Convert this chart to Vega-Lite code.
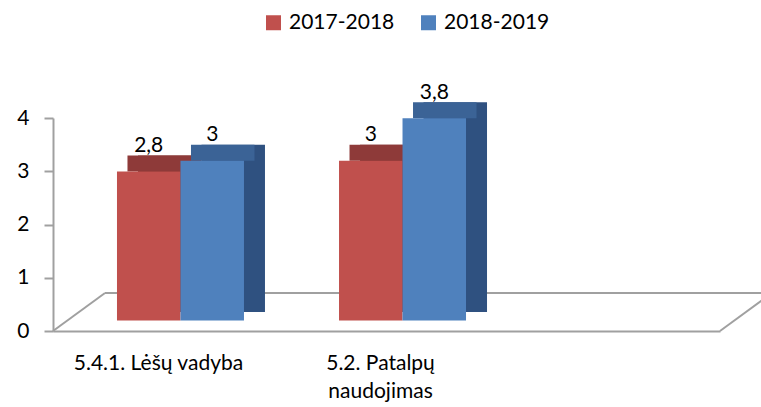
{
  "$schema": "https://vega.github.io/schema/vega-lite/v6.json",
  "width": 667,
  "height": 213,
  "autosize": "none",
  "padding": {"left": 53, "top": 118, "right": 41, "bottom": 76},
  "config": {
    "locale": {"number": {"decimal": ",", "thousands": " ", "grouping": [3], "currency": ["", " €"]}},
    "view": {"stroke": null},
    "font": "Lato"
  },
  "data": {
    "values": [
      {"cat": "5.4.1. Lėšų vadyba", "series": "2017-2018", "v": 2.8},
      {"cat": "5.4.1. Lėšų vadyba", "series": "2018-2019", "v": 3},
      {"cat": "5.2. Patalpų naudojimas", "series": "2017-2018", "v": 3},
      {"cat": "5.2. Patalpų naudojimas", "series": "2018-2019", "v": 3.8}
    ]
  },
  "encoding": {
    "x": {
      "field": "cat",
      "type": "nominal",
      "scale": {"domain": ["5.4.1. Lėšų vadyba", "5.2. Patalpų naudojimas", "_"], "paddingInner": 0.428, "paddingOuter": 0.216, "align": 0.667},
      "axis": {
        "title": null,
        "labelAngle": 0,
        "labelExpr": "datum.value == '_' ? '' : (datum.value == '5.2. Patalpų naudojimas' ? ['5.2. Patalpų', 'naudojimas'] : datum.label)",
        "labelFontSize": 21,
        "labelFont": "Lato",
        "labelColor": "#000000",
        "labelLineHeight": 28,
        "labelOffset": -22,
        "labelPadding": 21,
        "ticks": false,
        "domainColor": "#A0A0A0",
        "domainWidth": 2
      }
    },
    "y": {
      "field": "v",
      "type": "quantitative",
      "scale": {"domain": [0, 4]},
      "axis": {
        "title": null,
        "values": [0, 1, 2, 3, 4],
        "grid": false,
        "domain": true,
        "ticks": true,
        "labelFontSize": 21,
        "labelFont": "Lato",
        "labelColor": "#000000",
        "labelPadding": 15,
        "tickSize": 9,
        "tickColor": "#A0A0A0",
        "domainColor": "#A0A0A0",
        "tickWidth": 2,
        "domainWidth": 2
      }
    }
  },
  "layer": [
    {
      "data": {"values": [{"k": 1}]},
      "mark": {"type": "rule", "color": "#A0A0A0", "strokeWidth": 2, "xOffset": 52, "x2Offset": 52, "yOffset": -38, "y2Offset": -38},
      "encoding": {"x": {"value": 0}, "x2": {"value": "width"}, "y": {"value": "height"}, "y2": {"value": "height"}}
    },
    {
      "data": {"values": [{"k": 1}]},
      "mark": {"type": "rule", "color": "#A0A0A0", "strokeWidth": 2, "x2Offset": 52, "y2Offset": -38},
      "encoding": {"x": {"value": 0}, "x2": {"value": 0}, "y": {"value": "height"}, "y2": {"value": "height"}}
    },
    {
      "data": {"values": [{"k": 1}]},
      "mark": {"type": "rule", "color": "#A0A0A0", "strokeWidth": 2, "x2Offset": 52, "y2Offset": -38},
      "encoding": {"x": {"value": "width"}, "x2": {"value": "width"}, "y": {"value": "height"}, "y2": {"value": "height"}}
    },
    {
      "data": {"values": [{"k": 1}]},
      "mark": {"type": "rule", "color": "#A0A0A0", "strokeWidth": 2, "xOffset": -1, "x2Offset": -1},
      "encoding": {"x": {"value": 0}, "x2": {"value": 0}, "y": {"datum": 4}, "y2": {"datum": 0}}
    },
    {
      "mark": {"type": "bar", "yOffset": -26.5, "y2Offset": -19},
      "encoding": {
        "xOffset": {"field": "series", "type": "nominal", "scale": {"domain": ["2017-2018", "2018-2019"], "range": [21, 148], "paddingInner": 0, "paddingOuter": 0}},
        "y2": {"datum": 0},
        "fill": {"condition": {"test": "datum.series == '2017-2018'", "value": "#7E3331"}, "value": "#2F5180"}
      }
    },
    {
      "mark": {"type": "bar", "yOffset": -26.5, "y2Offset": -10.5},
      "encoding": {
        "xOffset": {"field": "series", "type": "nominal", "scale": {"domain": ["2017-2018", "2018-2019"], "range": [10.5, 137.5], "paddingInner": 0, "paddingOuter": 0}},
        "y2": {"field": "v"},
        "fill": {"condition": {"test": "datum.series == '2017-2018'", "value": "#8E3A39"}, "value": "#3B6396"}
      }
    },
    {
      "mark": {"type": "bar", "yOffset": -10.5, "y2Offset": -10.5},
      "encoding": {
        "xOffset": {"field": "series", "type": "nominal", "scale": {"domain": ["2017-2018", "2018-2019"], "range": [0, 127], "paddingInner": 0, "paddingOuter": 0}},
        "color": {
          "field": "series",
          "type": "nominal",
          "scale": {"domain": ["2017-2018", "2018-2019"], "range": ["#C0504D", "#4F81BD"]},
          "legend": {
            "title": null,
            "orient": "none",
            "direction": "horizontal",
            "legendX": 210,
            "legendY": -106,
            "symbolType": "square",
            "symbolSize": 225,
            "symbolStrokeWidth": 0,
            "labelFontSize": 21,
            "labelFont": "Lato",
            "labelColor": "#000000",
            "columnPadding": 23,
            "labelOffset": 5
          }
        }
      }
    },
    {
      "mark": {"type": "text", "fontSize": 21, "font": "Lato", "color": "#000000", "baseline": "middle", "dy": -36},
      "encoding": {
        "xOffset": {"field": "series", "type": "nominal", "scale": {"type": "point", "domain": ["2017-2018", "2018-2019"], "range": [31.75, 95.25], "padding": 0}},
        "text": {"field": "v", "type": "quantitative", "format": ".1~f"}
      }
    }
  ],
  "resolve": {"scale": {"xOffset": "independent"}}
}
